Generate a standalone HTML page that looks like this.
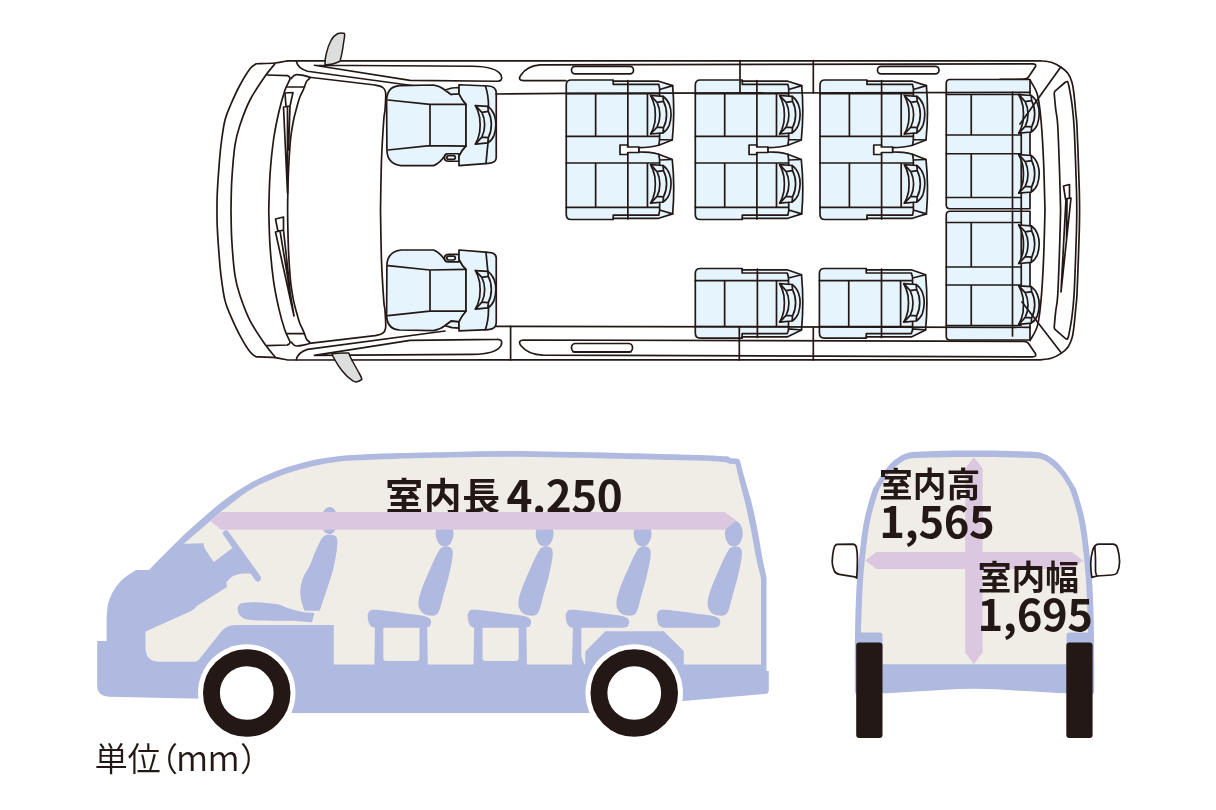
<!DOCTYPE html>
<html lang="ja"><head><meta charset="utf-8"><title>室内寸法</title>
<style>
html,body{margin:0;padding:0;background:#fff;}
body{width:1216px;height:810px;overflow:hidden;font-family:"Liberation Sans","Noto Sans CJK JP",sans-serif;}
svg{display:block;will-change:transform;}
text{font-family:"Liberation Sans","Noto Sans CJK JP",sans-serif;fill:#231815;}
.n{font-family:"Noto Sans CJK JP","Liberation Sans",sans-serif;}
.b{font-weight:700;}
.ln{fill:none;stroke:#231815;stroke-width:1.7;stroke-linejoin:round;stroke-linecap:round;}
.sf{fill:#e6f4fd;stroke:#231815;stroke-width:1.7;stroke-linejoin:round;}
.wf{fill:#fff;stroke:#231815;stroke-width:1.7;stroke-linejoin:round;}
</style></head><body>
<svg width="1216" height="810" viewBox="0 0 1216 810">
<path class="wf" d="M287.50,60.80 L1040,60.8 C1041.87,61.05 1047.68,61.23 1051.20,62.30 C1054.72,63.37 1058.30,65.32 1061.10,67.20 C1063.90,69.08 1066.18,71.05 1068.00,73.60 C1069.82,76.15 1071.00,79.03 1072.00,82.50 C1073.00,85.97 1073.35,89.13 1074.00,94.40 C1074.65,99.67 1075.42,109.00 1075.90,114.10 C1076.38,119.20 1076.50,117.35 1076.90,125.00 C1077.30,132.65 1077.90,149.17 1078.30,160.00 C1078.70,170.83 1079.08,181.62 1079.30,190.00 C1079.52,198.38 1079.55,206.92 1079.60,210.30 C1079.55,213.68 1079.52,222.22 1079.30,230.60 C1079.08,238.98 1078.70,249.77 1078.30,260.60 C1077.90,271.43 1077.30,287.95 1076.90,295.60 C1076.50,303.25 1076.38,301.40 1075.90,306.50 C1075.42,311.60 1074.65,320.93 1074.00,326.20 C1073.35,331.47 1073.00,334.63 1072.00,338.10 C1071.00,341.57 1069.82,344.45 1068.00,347.00 C1066.18,349.55 1063.90,351.52 1061.10,353.40 C1058.30,355.28 1054.72,357.23 1051.20,358.30 C1047.68,359.37 1041.87,359.55 1040.00,359.80 L287.5,360 C285.42,359.60 280.21,358.12 275.00,357.60 C269.79,357.08 259.38,356.98 256.25,356.85 C255.21,356.02 252.71,355.39 250.00,351.85 C247.29,348.31 243.17,341.48 240.00,335.60 C236.83,329.73 233.50,322.43 231.00,316.60 C228.50,310.77 226.67,307.43 225.00,300.60 C223.33,293.77 222.04,283.93 221.00,275.60 C219.96,267.27 219.38,258.93 218.75,250.60 C218.12,242.27 217.49,232.32 217.20,225.60 C216.91,218.88 217.03,212.85 217.00,210.30 C217.03,207.75 216.91,201.72 217.20,195.00 C217.49,188.28 218.12,178.33 218.75,170.00 C219.38,161.67 219.96,153.33 221.00,145.00 C222.04,136.67 223.33,126.83 225.00,120.00 C226.67,113.17 228.50,109.83 231.00,104.00 C233.50,98.17 236.83,90.88 240.00,85.00 C243.17,79.12 247.29,72.29 250.00,68.75 C252.71,65.21 255.21,64.58 256.25,63.75 C259.38,63.62 269.79,63.49 275.00,63.00 C280.21,62.51 285.42,61.17 287.50,60.80 Z"/>
<path class="ln" d="M275.00,63.75 C273.33,65.83 269.17,70.21 265.00,76.25 C260.83,82.29 254.17,91.88 250.00,100.00 C245.83,108.12 242.50,117.50 240.00,125.00 C237.50,132.50 236.37,135.83 235.00,145.00 C233.63,154.17 232.47,169.12 231.80,180.00 C231.13,190.88 231.13,205.25 231.00,210.30 C231.13,215.35 231.13,229.72 231.80,240.60 C232.47,251.48 233.63,266.43 235.00,275.60 C236.37,284.77 237.50,288.10 240.00,295.60 C242.50,303.10 245.83,312.48 250.00,320.60 C254.17,328.73 260.83,338.31 265.00,344.35 C269.17,350.39 273.33,354.77 275.00,356.85"/>
<path class="ln" d="M266.90,75.00 L287.5,75.6 C287.92,76.12 290.42,76.35 290.00,78.75 C289.58,81.15 286.88,84.38 285.00,90.00 C283.12,95.62 280.67,104.17 278.75,112.50 C276.83,120.83 274.96,129.58 273.50,140.00 C272.04,150.42 270.79,163.28 270.00,175.00 C269.21,186.72 268.96,204.42 268.75,210.30 C268.96,216.18 269.21,233.88 270.00,245.60 C270.79,257.32 272.04,270.18 273.50,280.60 C274.96,291.02 276.83,299.77 278.75,308.10 C280.67,316.43 283.12,324.98 285.00,330.60 C286.88,336.23 289.58,339.45 290.00,341.85 C290.42,344.25 287.92,344.48 287.50,345.00 L266.9,345.6"/>
<path class="ln" d="M291.30,78.50 C292.12,77.85 293.23,74.81 296.25,74.60 C299.27,74.39 307.69,76.10 309.40,77.25 C311.11,78.40 307.53,79.38 306.50,81.50 C305.47,83.62 304.35,87.28 303.20,90.00 C302.05,92.72 300.70,94.80 299.60,97.80 C298.50,100.80 297.53,104.63 296.60,108.00 C295.67,111.37 294.80,114.33 294.00,118.00 C293.20,121.67 292.42,126.00 291.80,130.00 C291.18,134.00 290.83,135.67 290.30,142.00 C289.77,148.33 289.02,159.17 288.60,168.00 C288.18,176.83 287.97,187.95 287.80,195.00 C287.63,202.05 287.63,207.75 287.60,210.30 C287.63,212.85 287.63,218.55 287.80,225.60 C287.97,232.65 288.18,243.77 288.60,252.60 C289.02,261.43 289.77,272.27 290.30,278.60 C290.83,284.93 291.18,286.60 291.80,290.60 C292.42,294.60 293.20,298.93 294.00,302.60 C294.80,306.27 295.67,309.23 296.60,312.60 C297.53,315.97 298.50,319.80 299.60,322.80 C300.70,325.80 302.05,327.88 303.20,330.60 C304.35,333.32 305.47,336.98 306.50,339.10 C307.53,341.23 311.11,342.20 309.40,343.35 C307.69,344.50 299.27,346.21 296.25,346.00 C293.23,345.79 292.12,342.75 291.30,342.10"/>
<path class="ln" d="M287.3,87 L304.5,87 M287.3,333.6 L304.5,333.6"/>
<path class="ln" d="M309.40,77.25 L375,85 C376.17,85.33 380.23,85.75 382.00,87.00 C383.77,88.25 385.10,88.67 385.60,92.50 C386.10,96.33 385.31,105.42 385.00,110.00 C384.69,114.58 384.33,111.67 383.75,120.00 C383.17,128.33 382.04,144.95 381.50,160.00 C380.96,175.05 380.67,201.92 380.50,210.30 C380.67,218.68 380.96,245.55 381.50,260.60 C382.04,275.65 383.17,292.27 383.75,300.60 C384.33,308.93 384.69,306.02 385.00,310.60 C385.31,315.18 386.10,324.27 385.60,328.10 C385.10,331.93 383.77,332.35 382.00,333.60 C380.23,334.85 376.17,335.27 375.00,335.60 L309.4,343.35"/>
<path class="ln" stroke-width="1.1" d="M285,93 L293,92.5 L290,106 L286,106.5 Z M283.5,107 L287.5,106.5 L287.5,193 Z M286,106.5 L290,106 L288.5,150"/>
<path class="ln" stroke-width="1.1" d="M275.5,219 L283.5,217 L283.5,230 L278,231.5 Z M275.5,232 L280,230.8 L294,316 Z M278.5,231.3 L283.5,230 L290,290"/>
<path class="ln" d="M296.25,60.8 Q297.5,68 307.5,71.25 L452,91 M314.4,65.25 L410,80.3 L497,81.25 Q503.5,81.5 501,75 Q496,66.5 472.5,66.25 L314.4,65.25"/>
<path class="ln" d="M296.25,359.8 Q297.5,352.6 307.5,349.35 L445,331 M314.4,355.35 L410,340.3 L497,339.35 Q503.5,339.1 501,345.6 Q496,354.1 472.5,354.35 L314.4,355.35"/>
<path d="M325,65 Q325,58 326.25,53.75 Q328,46 331.25,40 Q334,35.5 337.5,33.75 Q341,32.2 344.4,33.5 Q345,35 344.4,37.5 L342.5,50 Q341.5,56 340,61.25 Q333,64.8 325,65 Z" fill="#dcdddd" stroke="#231815" stroke-width="1.5" stroke-linejoin="round"/>
<path d="M331.9,353.75 Q333,357 335,360 Q338,366 342.5,371.25 Q347,377 352.5,380.6 Q354.5,381.9 356.25,381.9 Q359.5,381.5 361.9,379.4 Q361,376 358.75,372.5 L352.5,361.25 Q350,357 348.75,353.1 Q340,352.6 331.9,353.75 Z" fill="#dcdddd" stroke="#231815" stroke-width="1.5" stroke-linejoin="round"/>
<path class="ln" d="M566,80.7 L524,80.7 Q517,80.5 521,75 Q527,66 540,64.9 L1032.5,63.9 Q1036.8,64 1035.4,66.8 L1028.5,77 Q1027.3,79.2 1024,79.2 L1000,79.4"/>
<rect class="wf" x="571.5" y="66.3" width="62" height="7.6" rx="3.6"/>
<rect class="wf" x="877.5" y="66.3" width="61.5" height="7.6" rx="3.6"/>
<path class="ln" d="M1024,341.4 L524,340 Q517,340.2 521,345.7 Q528,354.5 543,355.2 L1032.5,356.9 Q1036.8,356.8 1035.4,353.6 L1028.5,343.6 Q1027.3,341.4 1024,341.4"/>
<rect class="wf" x="571.5" y="343.5" width="61" height="8.6" rx="4"/>
<path class="ln" d="M573,351.8 L631,351.8" stroke-width="1.8"/>
<path class="ln" d="M1030.00,80.00 C1031.25,82.50 1035.67,88.33 1037.50,95.00 C1039.33,101.67 1040.00,109.17 1041.00,120.00 C1042.00,130.83 1042.83,144.95 1043.50,160.00 C1044.17,175.05 1044.75,201.92 1045.00,210.30 C1044.75,218.68 1044.17,245.55 1043.50,260.60 C1042.83,275.65 1042.00,289.77 1041.00,300.60 C1040.00,311.43 1039.33,318.93 1037.50,325.60 C1035.67,332.27 1031.25,338.10 1030.00,340.60"/>
<path class="ln" d="M1054.2,93.4 L1054.7,91.4 L1065,82.5 Q1066.6,81.2 1067.6,81.6 C1067.83,82.42 1068.27,82.72 1069.00,86.50 C1069.73,90.28 1071.17,97.88 1072.00,104.30 C1072.83,110.72 1073.42,115.72 1074.00,125.00 C1074.58,134.28 1075.08,149.17 1075.50,160.00 C1075.92,170.83 1076.28,181.62 1076.50,190.00 C1076.72,198.38 1076.75,206.92 1076.80,210.30 C1076.75,213.68 1076.72,222.22 1076.50,230.60 C1076.28,238.98 1075.92,249.77 1075.50,260.60 C1075.08,271.43 1074.58,286.32 1074.00,295.60 C1073.42,304.88 1072.83,309.88 1072.00,316.30 C1071.17,322.72 1069.73,330.32 1069.00,334.10 C1068.27,337.88 1067.83,338.18 1067.60,339.00 Q1066.6,339.4 1065,338.1 L1054.7,329.2 L1054.2,327.2 C1054.45,324.57 1055.12,316.67 1055.70,311.40 C1056.28,306.13 1057.07,305.73 1057.70,295.60 C1058.33,285.47 1059.02,264.82 1059.50,250.60 C1059.98,236.38 1060.42,217.02 1060.60,210.30 C1060.42,203.58 1059.98,184.22 1059.50,170.00 C1059.02,155.78 1058.33,135.13 1057.70,125.00 C1057.07,114.87 1056.28,114.47 1055.70,109.20 C1055.12,103.93 1054.45,96.03 1054.20,93.40"/>
<path class="ln" stroke-width="1.1" d="M1063.5,186 L1069.5,184.5 L1069.5,198 L1065.5,199 Z M1066,199 L1071,198 L1061,292 Z M1067,199 L1066.5,240"/>
<g transform="translate(566.25 80.00)"><path class="sf" d="M5,0 H47 V1.2 H92.5 L106.4,5.6 Q108.8,33 106,60 L92.5,65.2 Q84,67.6 72.5,67.6 V71.9 Q84,71.9 92.5,74.3 L106,79.5 Q108.8,106.5 106.4,133.9 L92.5,138.3 H47 V139.5 H5 Q0,139.5 0,134.5 V5 Q0,0 5,0 Z"/><path class="ln" d="M0,13.6 H93 M0,56.3 H93 M0,83 H93 M0,127.4 H93 M29.4,13.6 V56.3 M29.4,83 V127.4 M61.6,0.5 V139 M81.2,13.6 V56.3 M81.2,83 V127.4 M47,1.2 V4.4 H92.5 Q93.8,8 93.4,13.6 V56.3 Q93.5,61 92.5,65.2 M47,138.3 V135.1 H92.5 Q93.8,131.5 93.4,127.4 V83 Q93.5,78.5 92.5,74.3 M106.4,5.6 L93.4,9.5 M106,60 L93.4,59.5 M106,79.5 L93.4,80 M106.4,133.9 L93.4,130"/><path class="wf" d="M53.75,65 H61.4 V67 H72.6 V72.5 H61.4 V74.5 H53.75 Z"/></g><g transform="translate(566.25 80.30)"><path class="sf" d="M84.4,15.2 L96.8,16 Q101,18.8 103.2,24.5 Q104.9,29 104.8,34.3 Q104.7,40 103,45 Q101,50 96.8,52.5 L84.4,53.7 Q87.2,49 88.6,42 Q89.6,34.5 88.6,27 Q87.2,20 84.4,15.2 Z"/><path class="ln" stroke-width="1.45" d="M90.8,22.1 L97.25,21.1 Q100.3,27 100.3,34.2 Q100.3,41.5 97.25,47.3 L90.8,46.8 Q93.7,41 93.6,34.5 Q93.7,28 90.8,22.1 Z M84.4,15.2 L90.8,22.1 M96.8,16 L97.25,21.1 M84.4,53.7 L90.8,46.8 M96.8,52.5 L97.25,47.3"/></g><g transform="translate(566.25 149.50)"><path class="sf" d="M84.4,15.2 L96.8,16 Q101,18.8 103.2,24.5 Q104.9,29 104.8,34.3 Q104.7,40 103,45 Q101,50 96.8,52.5 L84.4,53.7 Q87.2,49 88.6,42 Q89.6,34.5 88.6,27 Q87.2,20 84.4,15.2 Z"/><path class="ln" stroke-width="1.45" d="M90.8,22.1 L97.25,21.1 Q100.3,27 100.3,34.2 Q100.3,41.5 97.25,47.3 L90.8,46.8 Q93.7,41 93.6,34.5 Q93.7,28 90.8,22.1 Z M84.4,15.2 L90.8,22.1 M96.8,16 L97.25,21.1 M84.4,53.7 L90.8,46.8 M96.8,52.5 L97.25,47.3"/></g>
<g transform="translate(695.30 80.00)"><path class="sf" d="M5,0 H47 V1.2 H92.5 L106.4,5.6 Q108.8,33 106,60 L92.5,65.2 Q84,67.6 72.5,67.6 V71.9 Q84,71.9 92.5,74.3 L106,79.5 Q108.8,106.5 106.4,133.9 L92.5,138.3 H47 V139.5 H5 Q0,139.5 0,134.5 V5 Q0,0 5,0 Z"/><path class="ln" d="M0,13.6 H93 M0,56.3 H93 M0,83 H93 M0,127.4 H93 M29.4,13.6 V56.3 M29.4,83 V127.4 M61.6,0.5 V139 M81.2,13.6 V56.3 M81.2,83 V127.4 M47,1.2 V4.4 H92.5 Q93.8,8 93.4,13.6 V56.3 Q93.5,61 92.5,65.2 M47,138.3 V135.1 H92.5 Q93.8,131.5 93.4,127.4 V83 Q93.5,78.5 92.5,74.3 M106.4,5.6 L93.4,9.5 M106,60 L93.4,59.5 M106,79.5 L93.4,80 M106.4,133.9 L93.4,130"/><path class="wf" d="M53.75,65 H61.4 V67 H72.6 V72.5 H61.4 V74.5 H53.75 Z"/></g><g transform="translate(695.30 80.30)"><path class="sf" d="M84.4,15.2 L96.8,16 Q101,18.8 103.2,24.5 Q104.9,29 104.8,34.3 Q104.7,40 103,45 Q101,50 96.8,52.5 L84.4,53.7 Q87.2,49 88.6,42 Q89.6,34.5 88.6,27 Q87.2,20 84.4,15.2 Z"/><path class="ln" stroke-width="1.45" d="M90.8,22.1 L97.25,21.1 Q100.3,27 100.3,34.2 Q100.3,41.5 97.25,47.3 L90.8,46.8 Q93.7,41 93.6,34.5 Q93.7,28 90.8,22.1 Z M84.4,15.2 L90.8,22.1 M96.8,16 L97.25,21.1 M84.4,53.7 L90.8,46.8 M96.8,52.5 L97.25,47.3"/></g><g transform="translate(695.30 149.50)"><path class="sf" d="M84.4,15.2 L96.8,16 Q101,18.8 103.2,24.5 Q104.9,29 104.8,34.3 Q104.7,40 103,45 Q101,50 96.8,52.5 L84.4,53.7 Q87.2,49 88.6,42 Q89.6,34.5 88.6,27 Q87.2,20 84.4,15.2 Z"/><path class="ln" stroke-width="1.45" d="M90.8,22.1 L97.25,21.1 Q100.3,27 100.3,34.2 Q100.3,41.5 97.25,47.3 L90.8,46.8 Q93.7,41 93.6,34.5 Q93.7,28 90.8,22.1 Z M84.4,15.2 L90.8,22.1 M96.8,16 L97.25,21.1 M84.4,53.7 L90.8,46.8 M96.8,52.5 L97.25,47.3"/></g>
<g transform="translate(820.00 80.00)"><path class="sf" d="M5,0 H47 V1.2 H92.5 L106.4,5.6 Q108.8,33 106,60 L92.5,65.2 Q84,67.6 72.5,67.6 V71.9 Q84,71.9 92.5,74.3 L106,79.5 Q108.8,106.5 106.4,133.9 L92.5,138.3 H47 V139.5 H5 Q0,139.5 0,134.5 V5 Q0,0 5,0 Z"/><path class="ln" d="M0,13.6 H93 M0,56.3 H93 M0,83 H93 M0,127.4 H93 M29.4,13.6 V56.3 M29.4,83 V127.4 M61.6,0.5 V139 M81.2,13.6 V56.3 M81.2,83 V127.4 M47,1.2 V4.4 H92.5 Q93.8,8 93.4,13.6 V56.3 Q93.5,61 92.5,65.2 M47,138.3 V135.1 H92.5 Q93.8,131.5 93.4,127.4 V83 Q93.5,78.5 92.5,74.3 M106.4,5.6 L93.4,9.5 M106,60 L93.4,59.5 M106,79.5 L93.4,80 M106.4,133.9 L93.4,130"/><path class="wf" d="M53.75,65 H61.4 V67 H72.6 V72.5 H61.4 V74.5 H53.75 Z"/></g><g transform="translate(820.00 80.30)"><path class="sf" d="M84.4,15.2 L96.8,16 Q101,18.8 103.2,24.5 Q104.9,29 104.8,34.3 Q104.7,40 103,45 Q101,50 96.8,52.5 L84.4,53.7 Q87.2,49 88.6,42 Q89.6,34.5 88.6,27 Q87.2,20 84.4,15.2 Z"/><path class="ln" stroke-width="1.45" d="M90.8,22.1 L97.25,21.1 Q100.3,27 100.3,34.2 Q100.3,41.5 97.25,47.3 L90.8,46.8 Q93.7,41 93.6,34.5 Q93.7,28 90.8,22.1 Z M84.4,15.2 L90.8,22.1 M96.8,16 L97.25,21.1 M84.4,53.7 L90.8,46.8 M96.8,52.5 L97.25,47.3"/></g><g transform="translate(820.00 149.50)"><path class="sf" d="M84.4,15.2 L96.8,16 Q101,18.8 103.2,24.5 Q104.9,29 104.8,34.3 Q104.7,40 103,45 Q101,50 96.8,52.5 L84.4,53.7 Q87.2,49 88.6,42 Q89.6,34.5 88.6,27 Q87.2,20 84.4,15.2 Z"/><path class="ln" stroke-width="1.45" d="M90.8,22.1 L97.25,21.1 Q100.3,27 100.3,34.2 Q100.3,41.5 97.25,47.3 L90.8,46.8 Q93.7,41 93.6,34.5 Q93.7,28 90.8,22.1 Z M84.4,15.2 L90.8,22.1 M96.8,16 L97.25,21.1 M84.4,53.7 L90.8,46.8 M96.8,52.5 L97.25,47.3"/></g>
<g transform="translate(695.30 268.50)"><path class="sf" d="M5,0 H46.85 V1.3 H91.85 L106.2,6.25 Q108.8,34 106.2,61.5 L91.85,68.4 H46.85 V69.6 H5 Q0,69.6 0,64.6 V5 Q0,0 5,0 Z"/><path class="ln" d="M0,12.1 H93 M0,58 H93 M29.35,12.1 V58 M62.1,0.5 V69 M81.2,12.1 V58 M46.85,1.3 V4.5 H91.85 Q93.6,8 93.2,12.1 M46.85,68.4 V65.2 H91.85 Q93.6,62 93.2,58 M93.2,12.1 V58 M106.2,6.25 L93.2,9.5 M106.2,61.5 L93.2,60.3"/></g><g transform="translate(695.30 268.50)"><path class="sf" d="M84.4,15.2 L96.8,16 Q101,18.8 103.2,24.5 Q104.9,29 104.8,34.3 Q104.7,40 103,45 Q101,50 96.8,52.5 L84.4,53.7 Q87.2,49 88.6,42 Q89.6,34.5 88.6,27 Q87.2,20 84.4,15.2 Z"/><path class="ln" stroke-width="1.45" d="M90.8,22.1 L97.25,21.1 Q100.3,27 100.3,34.2 Q100.3,41.5 97.25,47.3 L90.8,46.8 Q93.7,41 93.6,34.5 Q93.7,28 90.8,22.1 Z M84.4,15.2 L90.8,22.1 M96.8,16 L97.25,21.1 M84.4,53.7 L90.8,46.8 M96.8,52.5 L97.25,47.3"/></g>
<g transform="translate(819.40 268.50)"><path class="sf" d="M5,0 H46.85 V1.3 H91.85 L106.2,6.25 Q108.8,34 106.2,61.5 L91.85,68.4 H46.85 V69.6 H5 Q0,69.6 0,64.6 V5 Q0,0 5,0 Z"/><path class="ln" d="M0,12.1 H93 M0,58 H93 M29.35,12.1 V58 M62.1,0.5 V69 M81.2,12.1 V58 M46.85,1.3 V4.5 H91.85 Q93.6,8 93.2,12.1 M46.85,68.4 V65.2 H91.85 Q93.6,62 93.2,58 M93.2,12.1 V58 M106.2,6.25 L93.2,9.5 M106.2,61.5 L93.2,60.3"/></g><g transform="translate(819.40 268.50)"><path class="sf" d="M84.4,15.2 L96.8,16 Q101,18.8 103.2,24.5 Q104.9,29 104.8,34.3 Q104.7,40 103,45 Q101,50 96.8,52.5 L84.4,53.7 Q87.2,49 88.6,42 Q89.6,34.5 88.6,27 Q87.2,20 84.4,15.2 Z"/><path class="ln" stroke-width="1.45" d="M90.8,22.1 L97.25,21.1 Q100.3,27 100.3,34.2 Q100.3,41.5 97.25,47.3 L90.8,46.8 Q93.7,41 93.6,34.5 Q93.7,28 90.8,22.1 Z M84.4,15.2 L90.8,22.1 M96.8,16 L97.25,21.1 M84.4,53.7 L90.8,46.8 M96.8,52.5 L97.25,47.3"/></g>
<path class="sf" d="M950,79.5 H1030 V208.75 H950 Q946.25,208.75 946.25,205 V83.25 Q946.25,79.5 950,79.5 Z"/>
<path class="sf" d="M950,211.25 H1030 V340 H950 Q946.25,340 946.25,336.25 V215 Q946.25,211.25 950,211.25 Z"/>
<path class="ln" d="M946.25,94.5 H1021 M946.25,135 H1021 M946.25,153.75 H1021 M946.25,197.5 H1021 M971.25,94.5 V135 M971.25,153.75 V197.5 M1012.5,92 V208.75 M1021.25,130 V290 M946.25,222.5 H1021 M946.25,267 H1021 M946.25,285 H1021 M946.25,325.5 H1021 M971.25,222.5 V267 M971.25,285 V325.5 M1012.5,211.25 V336"/>
<g transform="translate(934.40 79.50)"><path class="sf" d="M84.4,15.2 L96.8,16 Q101,18.8 103.2,24.5 Q104.9,29 104.8,34.3 Q104.7,40 103,45 Q101,50 96.8,52.5 L84.4,53.7 Q87.2,49 88.6,42 Q89.6,34.5 88.6,27 Q87.2,20 84.4,15.2 Z"/><path class="ln" stroke-width="1.45" d="M90.8,22.1 L97.25,21.1 Q100.3,27 100.3,34.2 Q100.3,41.5 97.25,47.3 L90.8,46.8 Q93.7,41 93.6,34.5 Q93.7,28 90.8,22.1 Z M84.4,15.2 L90.8,22.1 M96.8,16 L97.25,21.1 M84.4,53.7 L90.8,46.8 M96.8,52.5 L97.25,47.3"/></g>
<g transform="translate(934.40 139.50)"><path class="sf" d="M84.4,15.2 L96.8,16 Q101,18.8 103.2,24.5 Q104.9,29 104.8,34.3 Q104.7,40 103,45 Q101,50 96.8,52.5 L84.4,53.7 Q87.2,49 88.6,42 Q89.6,34.5 88.6,27 Q87.2,20 84.4,15.2 Z"/><path class="ln" stroke-width="1.45" d="M90.8,22.1 L97.25,21.1 Q100.3,27 100.3,34.2 Q100.3,41.5 97.25,47.3 L90.8,46.8 Q93.7,41 93.6,34.5 Q93.7,28 90.8,22.1 Z M84.4,15.2 L90.8,22.1 M96.8,16 L97.25,21.1 M84.4,53.7 L90.8,46.8 M96.8,52.5 L97.25,47.3"/></g>
<g transform="translate(934.40 209.80)"><path class="sf" d="M84.4,15.2 L96.8,16 Q101,18.8 103.2,24.5 Q104.9,29 104.8,34.3 Q104.7,40 103,45 Q101,50 96.8,52.5 L84.4,53.7 Q87.2,49 88.6,42 Q89.6,34.5 88.6,27 Q87.2,20 84.4,15.2 Z"/><path class="ln" stroke-width="1.45" d="M90.8,22.1 L97.25,21.1 Q100.3,27 100.3,34.2 Q100.3,41.5 97.25,47.3 L90.8,46.8 Q93.7,41 93.6,34.5 Q93.7,28 90.8,22.1 Z M84.4,15.2 L90.8,22.1 M96.8,16 L97.25,21.1 M84.4,53.7 L90.8,46.8 M96.8,52.5 L97.25,47.3"/></g>
<g transform="translate(934.40 270.60)"><path class="sf" d="M84.4,15.2 L96.8,16 Q101,18.8 103.2,24.5 Q104.9,29 104.8,34.3 Q104.7,40 103,45 Q101,50 96.8,52.5 L84.4,53.7 Q87.2,49 88.6,42 Q89.6,34.5 88.6,27 Q87.2,20 84.4,15.2 Z"/><path class="ln" stroke-width="1.45" d="M90.8,22.1 L97.25,21.1 Q100.3,27 100.3,34.2 Q100.3,41.5 97.25,47.3 L90.8,46.8 Q93.7,41 93.6,34.5 Q93.7,28 90.8,22.1 Z M84.4,15.2 L90.8,22.1 M96.8,16 L97.25,21.1 M84.4,53.7 L90.8,46.8 M96.8,52.5 L97.25,47.3"/></g>
<g><path class="sf" d="M399.75,85.6 L433.5,85 Q440,86 445,90 L451,94.4 L459,93.75 Q462,100 466,104.4 V146.2 Q462,150 459,156.25 L446,154 Q440,163.5 433.5,165.6 L401,165.6 Q387.2,164 386.9,150 L386.6,100 Q387,86.5 399.75,85.6 Z"/><path class="sf" d="M444.5,157.5 Q444.5,153.75 448.5,153.75 L459,153.75 V161.25 L448.5,161.25 Q444.5,161.25 444.5,157.5 Z"/><rect class="ln" x="446.8" y="155.6" width="8.5" height="3.8" rx="1.9" stroke-width="1"/><path class="sf" d="M445,90 L452,88 L459,87.5 V93.75 L451,94.4 Z"/><path class="sf" d="M459,84.75 L488.5,86 Q496.25,86.5 496.25,93 V157.5 Q496.25,163 488.5,163.3 L459,165.6 V156.25 Q462,150 466,146.2 V104.4 Q462,100 459,93.75 Z"/><path class="ln" d="M388,100 L429.75,104.4 H466 M388,150 L429.75,145.6 L466,146.2 M430,104.4 V145.6"/><path class="ln" d="M485.4,86 Q488.5,95 488.5,106.25 L489,125 Q488.5,140 487.25,150 L486,163.3"/></g>
<g transform="matrix(1 0 0 -1 0 415.6)"><path class="sf" d="M399.75,85.6 L433.5,85 Q440,86 445,90 L451,94.4 L459,93.75 Q462,100 466,104.4 V146.2 Q462,150 459,156.25 L446,154 Q440,163.5 433.5,165.6 L401,165.6 Q387.2,164 386.9,150 L386.6,100 Q387,86.5 399.75,85.6 Z"/><path class="sf" d="M444.5,157.5 Q444.5,153.75 448.5,153.75 L459,153.75 V161.25 L448.5,161.25 Q444.5,161.25 444.5,157.5 Z"/><rect class="ln" x="446.8" y="155.6" width="8.5" height="3.8" rx="1.9" stroke-width="1"/><path class="sf" d="M445,90 L452,88 L459,87.5 V93.75 L451,94.4 Z"/><path class="sf" d="M459,84.75 L488.5,86 Q496.25,86.5 496.25,93 V157.5 Q496.25,163 488.5,163.3 L459,165.6 V156.25 Q462,150 466,146.2 V104.4 Q462,100 459,93.75 Z"/><path class="ln" d="M388,100 L429.75,104.4 H466 M388,150 L429.75,145.6 L466,146.2 M430,104.4 V145.6"/><path class="ln" d="M485.4,86 Q488.5,95 488.5,106.25 L489,125 Q488.5,140 487.25,150 L486,163.3"/></g>
<g transform="translate(391.05 90.35)"><path class="sf" d="M84.4,15.2 L96.8,16 Q101,18.8 103.2,24.5 Q104.9,29 104.8,34.3 Q104.7,40 103,45 Q101,50 96.8,52.5 L84.4,53.7 Q87.2,49 88.6,42 Q89.6,34.5 88.6,27 Q87.2,20 84.4,15.2 Z"/><path class="ln" stroke-width="1.45" d="M90.8,22.1 L97.25,21.1 Q100.3,27 100.3,34.2 Q100.3,41.5 97.25,47.3 L90.8,46.8 Q93.7,41 93.6,34.5 Q93.7,28 90.8,22.1 Z M84.4,15.2 L90.8,22.1 M96.8,16 L97.25,21.1 M84.4,53.7 L90.8,46.8 M96.8,52.5 L97.25,47.3"/></g>
<g transform="translate(391.05 255.35)"><path class="sf" d="M84.4,15.2 L96.8,16 Q101,18.8 103.2,24.5 Q104.9,29 104.8,34.3 Q104.7,40 103,45 Q101,50 96.8,52.5 L84.4,53.7 Q87.2,49 88.6,42 Q89.6,34.5 88.6,27 Q87.2,20 84.4,15.2 Z"/><path class="ln" stroke-width="1.45" d="M90.8,22.1 L97.25,21.1 Q100.3,27 100.3,34.2 Q100.3,41.5 97.25,47.3 L90.8,46.8 Q93.7,41 93.6,34.5 Q93.7,28 90.8,22.1 Z M84.4,15.2 L90.8,22.1 M96.8,16 L97.25,21.1 M84.4,53.7 L90.8,46.8 M96.8,52.5 L97.25,47.3"/></g>
<path class="ln" d="M496,94 L566,93.4 L1030,92.4 M496,326.3 L1030,327.3"/>
<path class="ln" d="M740,60.5 L740,93 M813.3,60.5 L813.3,93 M510.6,326.3 L510.6,360 M739.3,327 L739.3,360 M813.3,327 L813.3,360"/>
<path class="ln" d="M1060.6,67.2 L1020,124 M1060.6,352 L1022,302"/>
<path d="M97.2,641.1 L106.6,641.1 L106.6,618 C106.88,615.50 107.07,607.67 108.30,603.00 C109.53,598.33 111.55,594.00 114.00,590.00 C116.45,586.00 119.33,582.33 123.00,579.00 C126.67,575.67 133.83,571.50 136.00,570.00 L149,570 C154.17,564.79 171.50,547.00 180.00,538.75 C188.50,530.50 192.50,527.06 200.00,520.50 C207.50,513.94 216.67,505.62 225.00,499.40 C233.33,493.18 241.67,487.87 250.00,483.20 C258.33,478.53 266.67,474.70 275.00,471.40 C283.33,468.10 291.67,465.62 300.00,463.40 C308.33,461.18 316.33,459.50 325.00,458.10 C333.67,456.70 340.50,455.80 352.00,455.00 C363.50,454.20 377.67,453.80 394.00,453.30 C410.33,452.80 431.50,452.37 450.00,452.00 C468.50,451.63 486.67,451.13 505.00,451.10 C523.33,451.07 540.83,451.48 560.00,451.80 C579.17,452.12 600.00,452.55 620.00,453.00 C640.00,453.45 665.00,454.10 680.00,454.50 C695.00,454.90 702.03,455.10 710.00,455.40 C717.97,455.70 724.83,456.15 727.80,456.30 L730.7,458.3 L736.7,458.5 Q739.6,458.8 740,460.9 C740.43,462.57 741.43,466.63 742.60,470.90 C743.77,475.17 745.40,480.82 747.00,486.50 C748.60,492.18 750.45,497.75 752.20,505.00 C753.95,512.25 755.73,520.83 757.50,530.00 C759.27,539.17 761.30,552.17 762.80,560.00 C764.30,567.83 765.88,574.17 766.50,577.00 L766.5,671 L768.8,671 L768.8,690 Q768.8,693.5 766,693.8 L683.75,701 L670,701 L670,713 L215,713 L215,699 L108.9,696.7 Q97.2,696 97.2,685.5 Z" fill="#b0b9df"/>
<path d="M183.75,543.75 C185.12,542.58 189.29,539.03 192.00,536.70 C194.71,534.38 196.90,532.47 200.00,529.80 C203.10,527.13 206.43,524.25 210.60,520.70 C214.77,517.15 218.43,513.62 225.00,508.50 C231.57,503.38 241.67,495.07 250.00,490.00 C258.33,484.93 266.67,481.50 275.00,478.10 C283.33,474.70 291.67,471.99 300.00,469.60 C308.33,467.21 316.33,465.25 325.00,463.75 C333.67,462.25 340.50,461.41 352.00,460.60 C363.50,459.79 377.67,459.40 394.00,458.90 C410.33,458.40 431.50,457.95 450.00,457.60 C468.50,457.25 486.67,456.83 505.00,456.80 C523.33,456.77 540.83,457.08 560.00,457.40 C579.17,457.72 600.00,458.23 620.00,458.70 C640.00,459.17 665.00,459.83 680.00,460.20 C695.00,460.57 702.28,460.57 710.00,460.90 C717.72,461.23 723.58,461.98 726.30,462.20 L729.3,463.7 L734.8,463.9 Q735.7,464.2 735.9,465.4 C736.40,467.55 737.78,473.68 738.90,478.30 C740.02,482.92 741.48,488.65 742.60,493.10 C743.72,497.55 744.20,498.85 745.60,505.00 C747.00,511.15 749.17,520.83 751.00,530.00 C752.83,539.17 754.93,552.00 756.60,560.00 C758.27,568.00 760.27,575.00 761.00,578.00 L761,664.5 L683.75,664.5 L683.75,651 L663.75,631.25 L605.5,631.25 L585.3,651.5 L585.3,664.5 L333.75,664.5 L333.75,625 L236,625 Q226,625 221,632 L198.5,660 Q197,661.7 194.5,661.7 L157.8,661.7 Q145.5,661 145.5,646.7 L145.5,631.5 L189,611.9 Q194.5,609.8 196.7,606 L227,587 L226.25,582.5 C227.04,581.67 229.29,578.78 231.00,577.50 C232.71,576.22 234.50,575.45 236.50,574.80 C238.50,574.15 240.65,573.83 243.00,573.60 C245.35,573.37 249.33,573.43 250.60,573.40 L255.2,580.3 Q257.5,582.8 260,580.6 Q262.2,578.4 260.2,575.8 L228.3,531.6 Q226.3,529.3 224,531 Q221.8,533 223.7,535.3 L232.5,548 L213.75,562 L205.3,549.5 Q203.5,546.5 203.75,543.3 Z" fill="#f0ede6"/>
<g fill="#b0b9df">
<rect x="322.1" y="507" width="14.6" height="27.3" rx="7.3" ry="9.5" transform="rotate(2 329.4 520.6)"/>
<path d="M304.60,610.80 L319.8,610.8 C320.83,607.67 323.80,598.80 326.00,592.00 C328.20,585.20 331.17,577.33 333.00,570.00 C334.83,562.67 336.42,553.42 337.00,548.00 C337.58,542.58 337.67,539.70 336.50,537.50 C335.33,535.30 332.25,534.88 330.00,534.80 C327.75,534.72 325.33,534.47 323.00,537.00 C320.67,539.53 318.17,545.33 316.00,550.00 C313.83,554.67 312.17,560.33 310.00,565.00 C307.83,569.67 304.62,573.83 303.00,578.00 C301.38,582.17 300.60,586.33 300.30,590.00 C300.00,593.67 300.48,596.53 301.20,600.00 C301.92,603.47 304.03,609.00 304.60,610.80Z"/>
<path d="M314.50,613.00 L312,622.3 C308.33,622.05 297.83,621.08 290.00,620.80 C282.17,620.52 272.08,620.80 265.00,620.60 C257.92,620.40 251.67,620.45 247.50,619.60 C243.33,618.75 241.65,617.27 240.00,615.50 C238.35,613.73 237.60,610.92 237.60,609.00 C237.60,607.08 238.27,605.07 240.00,604.00 C241.73,602.93 244.67,602.87 248.00,602.60 C251.33,602.33 255.08,602.12 260.00,602.40 C264.92,602.67 272.50,603.19 277.50,604.25 C282.50,605.31 285.83,607.46 290.00,608.75 C294.17,610.04 298.42,611.29 302.50,612.00 C306.58,612.71 312.50,612.83 314.50,613.00Z"/>
<g transform="translate(-100.00 0)">
<ellipse cx="544.6" cy="533.5" rx="9" ry="13"/>
<path d="M540.50,548.20 C541.42,547.87 544.17,546.15 546.00,546.20 C547.83,546.25 550.40,546.87 551.50,548.50 C552.60,550.13 553.02,551.58 552.60,556.00 C552.18,560.42 550.60,568.17 549.00,575.00 C547.40,581.83 544.67,591.00 543.00,597.00 C541.33,603.00 540.50,607.92 539.00,611.00 C537.50,614.08 536.50,615.00 534.00,615.50 C531.50,616.00 526.50,615.33 524.00,614.00 C521.50,612.67 519.83,610.17 519.00,607.50 C518.17,604.83 518.17,602.08 519.00,598.00 C519.83,593.92 522.00,588.17 524.00,583.00 C526.00,577.83 529.00,571.50 531.00,567.00 C533.00,562.50 534.42,559.13 536.00,556.00 C537.58,552.87 539.75,549.50 540.50,548.20 Z"/>
<path d="M467.60,615.00 C468.00,614.25 468.60,611.37 470.00,610.50 C471.40,609.63 472.33,609.63 476.00,609.80 C479.67,609.97 486.33,610.80 492.00,611.50 C497.67,612.20 504.67,613.25 510.00,614.00 C515.33,614.75 520.58,615.08 524.00,616.00 C527.42,616.92 529.42,618.08 530.50,619.50 C531.58,620.92 531.25,623.17 530.50,624.50 C529.75,625.83 530.25,626.95 526.00,627.50 C521.75,628.05 512.67,627.75 505.00,627.80 C497.33,627.85 485.50,627.93 480.00,627.80 C474.50,627.67 473.92,627.97 472.00,627.00 C470.08,626.03 469.23,624.00 468.50,622.00 C467.77,620.00 467.75,616.17 467.60,615.00 Z"/>
<path transform="translate(1.30 0)" d="M473.75,624 L482,624 L482,658 Q482,661 485,661 L515.5,661 Q518.2,661 518.2,658 L518.2,624 L525.8,624 L526.5,666 L473,666 Z"/>
</g>
<g transform="translate(0.00 0)">
<ellipse cx="544.6" cy="533.5" rx="9" ry="13"/>
<path d="M540.50,548.20 C541.42,547.87 544.17,546.15 546.00,546.20 C547.83,546.25 550.40,546.87 551.50,548.50 C552.60,550.13 553.02,551.58 552.60,556.00 C552.18,560.42 550.60,568.17 549.00,575.00 C547.40,581.83 544.67,591.00 543.00,597.00 C541.33,603.00 540.50,607.92 539.00,611.00 C537.50,614.08 536.50,615.00 534.00,615.50 C531.50,616.00 526.50,615.33 524.00,614.00 C521.50,612.67 519.83,610.17 519.00,607.50 C518.17,604.83 518.17,602.08 519.00,598.00 C519.83,593.92 522.00,588.17 524.00,583.00 C526.00,577.83 529.00,571.50 531.00,567.00 C533.00,562.50 534.42,559.13 536.00,556.00 C537.58,552.87 539.75,549.50 540.50,548.20 Z"/>
<path d="M467.60,615.00 C468.00,614.25 468.60,611.37 470.00,610.50 C471.40,609.63 472.33,609.63 476.00,609.80 C479.67,609.97 486.33,610.80 492.00,611.50 C497.67,612.20 504.67,613.25 510.00,614.00 C515.33,614.75 520.58,615.08 524.00,616.00 C527.42,616.92 529.42,618.08 530.50,619.50 C531.58,620.92 531.25,623.17 530.50,624.50 C529.75,625.83 530.25,626.95 526.00,627.50 C521.75,628.05 512.67,627.75 505.00,627.80 C497.33,627.85 485.50,627.93 480.00,627.80 C474.50,627.67 473.92,627.97 472.00,627.00 C470.08,626.03 469.23,624.00 468.50,622.00 C467.77,620.00 467.75,616.17 467.60,615.00 Z"/>
<path transform="translate(0.50 0)" d="M473.75,624 L482,624 L482,658 Q482,661 485,661 L515.5,661 Q518.2,661 518.2,658 L518.2,624 L525.8,624 L526.5,666 L473,666 Z"/>
</g>
<g transform="translate(98.00 0)">
<ellipse cx="544.6" cy="533.5" rx="9" ry="13"/>
<path d="M540.50,548.20 C541.42,547.87 544.17,546.15 546.00,546.20 C547.83,546.25 550.40,546.87 551.50,548.50 C552.60,550.13 553.02,551.58 552.60,556.00 C552.18,560.42 550.60,568.17 549.00,575.00 C547.40,581.83 544.67,591.00 543.00,597.00 C541.33,603.00 540.50,607.92 539.00,611.00 C537.50,614.08 536.50,615.00 534.00,615.50 C531.50,616.00 526.50,615.33 524.00,614.00 C521.50,612.67 519.83,610.17 519.00,607.50 C518.17,604.83 518.17,602.08 519.00,598.00 C519.83,593.92 522.00,588.17 524.00,583.00 C526.00,577.83 529.00,571.50 531.00,567.00 C533.00,562.50 534.42,559.13 536.00,556.00 C537.58,552.87 539.75,549.50 540.50,548.20 Z"/>
<path d="M467.60,615.00 C468.00,614.25 468.60,611.37 470.00,610.50 C471.40,609.63 472.33,609.63 476.00,609.80 C479.67,609.97 486.33,610.80 492.00,611.50 C497.67,612.20 504.67,613.25 510.00,614.00 C515.33,614.75 520.58,615.08 524.00,616.00 C527.42,616.92 529.42,618.08 530.50,619.50 C531.58,620.92 531.25,623.17 530.50,624.50 C529.75,625.83 530.25,626.95 526.00,627.50 C521.75,628.05 512.67,627.75 505.00,627.80 C497.33,627.85 485.50,627.93 480.00,627.80 C474.50,627.67 473.92,627.97 472.00,627.00 C470.08,626.03 469.23,624.00 468.50,622.00 C467.77,620.00 467.75,616.17 467.60,615.00 Z"/>
<path d="M475,624 L483.3,624 L483.3,656 Q484.3,660 487.3,666 L474,666 Z"/>
</g>
<g transform="translate(189.20 0)">
<ellipse cx="544.6" cy="533.5" rx="9" ry="13"/>
<path d="M540.50,548.20 C541.42,547.87 544.17,546.15 546.00,546.20 C547.83,546.25 550.40,546.87 551.50,548.50 C552.60,550.13 553.02,551.58 552.60,556.00 C552.18,560.42 550.60,568.17 549.00,575.00 C547.40,581.83 544.67,591.00 543.00,597.00 C541.33,603.00 540.50,607.92 539.00,611.00 C537.50,614.08 536.50,615.00 534.00,615.50 C531.50,616.00 526.50,615.33 524.00,614.00 C521.50,612.67 519.83,610.17 519.00,607.50 C518.17,604.83 518.17,602.08 519.00,598.00 C519.83,593.92 522.00,588.17 524.00,583.00 C526.00,577.83 529.00,571.50 531.00,567.00 C533.00,562.50 534.42,559.13 536.00,556.00 C537.58,552.87 539.75,549.50 540.50,548.20 Z"/>
<path d="M467.60,615.00 C468.00,614.25 468.60,611.37 470.00,610.50 C471.40,609.63 472.33,609.63 476.00,609.80 C479.67,609.97 486.33,610.80 492.00,611.50 C497.67,612.20 504.67,613.25 510.00,614.00 C515.33,614.75 520.58,615.08 524.00,616.00 C527.42,616.92 529.42,618.08 530.50,619.50 C531.58,620.92 531.25,623.17 530.50,624.50 C529.75,625.83 530.25,626.95 526.00,627.50 C521.75,628.05 512.67,627.75 505.00,627.80 C497.33,627.85 485.50,627.93 480.00,627.80 C474.50,627.67 473.92,627.97 472.00,627.00 C470.08,626.03 469.23,624.00 468.50,622.00 C467.77,620.00 467.75,616.17 467.60,615.00 Z"/>
</g>
</g>
<text class="b"><tspan x="385.3" y="510" font-size="37.8" letter-spacing="0.72">室内長 </tspan><tspan class="n" x="506.4" y="512.5" font-size="44" letter-spacing="-0.45">4.250</tspan></text>
<path d="M210,521 L221.25,512 L725,512 L736.3,520.8 L725,529.75 L221.25,529.75 Z" fill="#dcc7e1"/>
<circle cx="246.75" cy="693" r="48.75" fill="#fff"/>
<circle cx="246.75" cy="693" r="35.3" fill="#fff" stroke="#231815" stroke-width="16.9"/>
<circle cx="634.25" cy="693" r="48.75" fill="#fff"/>
<circle cx="634.25" cy="693" r="35.3" fill="#fff" stroke="#231815" stroke-width="16.9"/>
<text font-weight="350"><tspan x="94.4 127.4" y="771.2" font-size="33.3">単位</tspan><tspan x="145" y="771" font-size="33">（</tspan><tspan class="n" x="176" y="771" font-size="35" letter-spacing="-0.8">mm</tspan><tspan x="240" y="771" font-size="33">）</tspan></text>
<path d="M974.50,450.50 C969.58,450.53 954.75,450.47 945.00,450.70 C935.25,450.93 922.38,451.42 916.00,451.85 C909.62,452.28 909.48,452.49 906.70,453.30 C903.92,454.11 901.77,455.22 899.30,456.70 C896.82,458.18 894.33,459.80 891.85,462.20 C889.37,464.60 886.54,468.30 884.40,471.10 C882.26,473.90 880.60,476.52 879.00,479.00 C877.40,481.48 875.87,484.17 874.80,486.00 C873.73,487.83 873.72,486.87 872.60,490.00 C871.48,493.13 869.47,499.87 868.10,504.80 C866.73,509.73 865.44,514.67 864.40,519.60 C863.36,524.53 862.58,529.33 861.85,534.40 C861.12,539.47 860.59,544.90 860.00,550.00 C859.41,555.10 858.88,558.75 858.30,565.00 C857.72,571.25 857.00,578.33 856.50,587.50 C856.00,596.67 855.58,607.92 855.30,620.00 C855.02,632.08 854.88,653.33 854.80,660.00 L854.8,690 Q854.8,694.8 858,695 C867.50,694.43 895.58,692.63 915.00,691.60 C934.42,690.57 954.67,688.80 974.50,688.80 C994.33,688.80 1014.58,690.57 1034.00,691.60 C1053.42,692.63 1081.50,694.43 1091.00,695.00 Q1094.2,694.8 1094.2,690 L1094.2,660 C1094.12,653.33 1093.98,632.08 1093.70,620.00 C1093.42,607.92 1093.00,596.67 1092.50,587.50 C1092.00,578.33 1091.28,571.25 1090.70,565.00 C1090.12,558.75 1089.59,555.10 1089.00,550.00 C1088.41,544.90 1087.88,539.47 1087.15,534.40 C1086.42,529.33 1085.64,524.53 1084.60,519.60 C1083.56,514.67 1082.27,509.73 1080.90,504.80 C1079.53,499.87 1077.52,493.13 1076.40,490.00 C1075.28,486.87 1075.27,487.83 1074.20,486.00 C1073.13,484.17 1071.60,481.48 1070.00,479.00 C1068.40,476.52 1066.74,473.90 1064.60,471.10 C1062.46,468.30 1059.63,464.60 1057.15,462.20 C1054.67,459.80 1052.18,458.18 1049.70,456.70 C1047.22,455.22 1045.08,454.11 1042.30,453.30 C1039.52,452.49 1039.38,452.28 1033.00,451.85 C1026.62,451.42 1013.75,450.93 1004.00,450.70 C994.25,450.47 979.42,450.53 974.50,450.50Z" fill="#b0b9df"/>
<path d="M974.50,457.00 C969.58,457.03 954.75,457.02 945.00,457.20 C935.25,457.38 922.38,457.70 916.00,458.10 C909.62,458.50 909.48,458.67 906.70,459.60 C903.92,460.53 901.53,462.15 899.30,463.70 C897.07,465.25 895.28,466.92 893.30,468.90 C891.32,470.88 889.20,473.17 887.40,475.60 C885.60,478.03 883.92,481.10 882.50,483.50 C881.08,485.90 880.30,486.45 878.90,490.00 C877.50,493.55 875.52,499.87 874.10,504.80 C872.68,509.73 871.45,514.67 870.40,519.60 C869.35,524.53 868.55,529.33 867.80,534.40 C867.05,539.47 866.48,544.90 865.90,550.00 C865.32,555.10 864.85,558.75 864.30,565.00 C863.75,571.25 863.07,579.17 862.60,587.50 C862.13,595.83 861.77,607.92 861.50,615.00 C861.23,622.08 861.08,627.50 861.00,630.00 L861,632.5 L880,632.5 Q882.5,632.5 882.5,635 L882.5,664.3 L1066.5,664.3 L1066.5,635 Q1066.5,632.5 1069,632.5 L1088,632.5 C1087.92,627.50 1087.77,622.08 1087.50,615.00 C1087.23,607.92 1086.87,595.83 1086.40,587.50 C1085.93,579.17 1085.25,571.25 1084.70,565.00 C1084.15,558.75 1083.68,555.10 1083.10,550.00 C1082.52,544.90 1081.95,539.47 1081.20,534.40 C1080.45,529.33 1079.65,524.53 1078.60,519.60 C1077.55,514.67 1076.32,509.73 1074.90,504.80 C1073.48,499.87 1071.50,493.55 1070.10,490.00 C1068.70,486.45 1067.92,485.90 1066.50,483.50 C1065.08,481.10 1063.40,478.03 1061.60,475.60 C1059.80,473.17 1057.68,470.88 1055.70,468.90 C1053.72,466.92 1051.93,465.25 1049.70,463.70 C1047.47,462.15 1045.08,460.53 1042.30,459.60 C1039.52,458.67 1039.38,458.50 1033.00,458.10 C1026.62,457.70 1013.75,457.38 1004.00,457.20 C994.25,457.02 979.42,457.03 974.50,457.00Z" fill="#f0ede6"/>
<path d="M973.9,457.3 L982.6,468.5 L982.6,652.6 L973.9,664.2 L965.2,652.6 L965.2,468.5 Z" fill="#dcc7e1"/>
<path d="M865.2,560.6 L876.3,552.1 L1071.9,552.1 L1083,560.6 L1071.9,569.1 L876.3,569.1 Z" fill="#dcc7e1"/>
<rect x="856.2" y="642.5" width="26.3" height="95.5" rx="3" fill="#231815"/>
<rect x="1066.3" y="642.5" width="26.3" height="95.5" rx="3" fill="#231815"/>
<text class="b" x="879.1" y="497.1" font-size="33.7">室内高</text>
<text class="b n" x="879.2" y="538" font-size="43.6" letter-spacing="-0.35">1,565</text>
<text class="b" x="977.85" y="589.9" font-size="33.7">室内幅</text>
<text class="b n" x="977.45" y="631" font-size="43.6" letter-spacing="-0.35">1,695</text>
<path d="M837,544.4 L852.6,544.1 Q855.6,544.4 856.3,547 Q857.6,553 857.4,559.6 Q857.4,570 856.7,578.1 L854.8,576.8 L839.3,574.4 Q835.3,573.8 834.1,570.4 Q832.2,566 832.2,561.85 Q832.3,555 833.7,549.3 Q834.6,545 837,544.4 Z" class="wf" stroke-width="1.9"/>
<path d="M1094.8,546 Q1096.3,544.3 1098.5,544.2 L1113.3,544.2 Q1116.4,544.6 1117.4,547.8 Q1119.5,554.5 1119.6,561.85 Q1119.5,568.5 1117,573 Q1115.5,574.7 1111.85,575 L1097,576 L1091.85,577.4 Q1090.6,570 1090.7,563.3 Q1090.9,556.5 1092.6,550.7 Q1093.5,547.5 1094.8,546 Z" class="wf" stroke-width="1.9"/>
<path d="M1094.8,546 Q1095.3,553 1095.5,559.6 L1095.5,571.5 Q1095.8,574 1097,576" class="ln" stroke-width="1.5"/>
</svg>
</body></html>
